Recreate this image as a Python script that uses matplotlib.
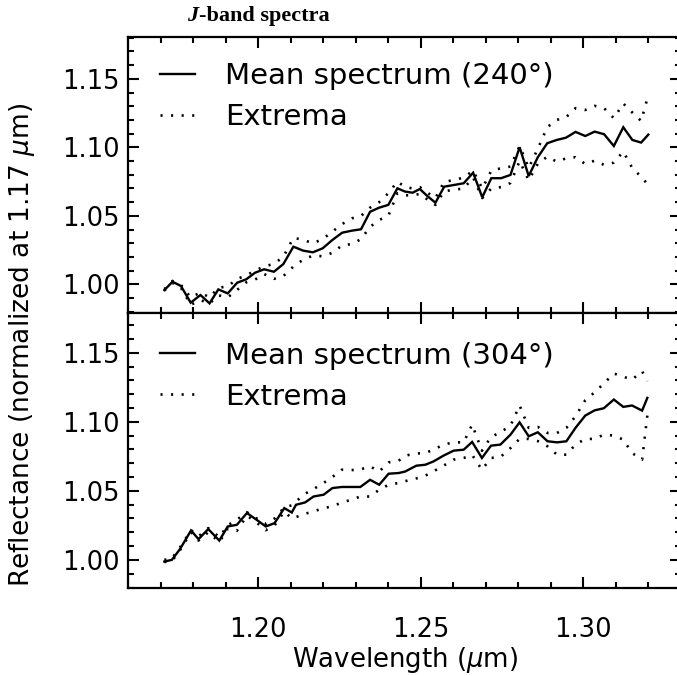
import matplotlib
matplotlib.use("Agg")
import matplotlib.pyplot as plt
from matplotlib.ticker import MultipleLocator, FormatStrFormatter

# ---------------- data ----------------
wl_top = [1.1711, 1.1736, 1.1762, 1.1792, 1.1822, 1.1850, 1.1877, 1.1906, 1.1935, 1.1963,
          1.1990, 1.2018, 1.2048, 1.2077, 1.2108, 1.2138, 1.2168, 1.2198, 1.2228, 1.2258,
          1.2288, 1.2316, 1.2344, 1.2372, 1.2400, 1.2428, 1.2452, 1.2475, 1.2497, 1.2520,
          1.2545, 1.2572, 1.2601, 1.2632, 1.2661, 1.2689, 1.2717, 1.2747, 1.2776, 1.2804,
          1.2832, 1.2860, 1.2889, 1.2918, 1.2947, 1.2976, 1.3006, 1.3035, 1.3064, 1.3094,
          1.3123, 1.3151, 1.3178, 1.3200]
mean_top = [0.9958, 1.0019, 0.9988, 0.9866, 0.9922, 0.9861, 0.9963, 0.9934, 1.0012, 1.0037,
            1.0085, 1.0110, 1.0092, 1.0148, 1.0275, 1.0246, 1.0234, 1.0263, 1.0324, 1.0377,
            1.0392, 1.0402, 1.0530, 1.0560, 1.0580, 1.0701, 1.0677, 1.0669, 1.0696, 1.0645,
            1.0596, 1.0713, 1.0725, 1.0738, 1.0815, 1.0636, 1.0775, 1.0775, 1.0799, 1.1001,
            1.0791, 1.0928, 1.1030, 1.1054, 1.1071, 1.1113, 1.1083, 1.1115, 1.1096, 1.1010,
            1.1147, 1.1054, 1.1035, 1.1093]
upper_top = [0.9965, 1.0025, 0.9995, 0.9905, 0.9940, 0.9905, 0.9975, 0.9985, 1.0040, 1.0065,
             1.0100, 1.0130, 1.0150, 1.0200, 1.0340, 1.0325, 1.0300, 1.0330, 1.0385, 1.0440,
             1.0482, 1.0499, 1.0560, 1.0600, 1.0665, 1.0750, 1.0710, 1.0700, 1.0710, 1.0670,
             1.0630, 1.0750, 1.0760, 1.0780, 1.0830, 1.0700, 1.0830, 1.0848, 1.0860, 1.1010,
             1.0850, 1.0990, 1.1147, 1.1200, 1.1220, 1.1286, 1.1273, 1.1303, 1.1286, 1.1213,
             1.1320, 1.1254, 1.1193, 1.1383]
lower_top = [0.9955, 1.0010, 0.9975, 0.9850, 0.9885, 0.9860, 0.9920, 0.9905, 0.9960, 1.0015,
             1.0035, 1.0075, 1.0040, 1.0060, 1.0130, 1.0180, 1.0210, 1.0205, 1.0230, 1.0285,
             1.0294, 1.0330, 1.0420, 1.0470, 1.0500, 1.0665, 1.0650, 1.0650, 1.0660, 1.0620,
             1.0580, 1.0680, 1.0690, 1.0700, 1.0780, 1.0630, 1.0700, 1.0710, 1.0740, 1.0900,
             1.0760, 1.0880, 1.0932, 1.0896, 1.0920, 1.0928, 1.0879, 1.0903, 1.0872, 1.0889,
             1.0969, 1.0848, 1.0786, 1.0725]

wl_bot = [1.1711, 1.1734, 1.1759, 1.1793, 1.1816, 1.1846, 1.1880, 1.1906, 1.1934, 1.1965,
          1.1995, 1.2023, 1.2050, 1.2080, 1.2103, 1.2116, 1.2144, 1.2170, 1.2201, 1.2228,
          1.2257, 1.2286, 1.2314, 1.2344, 1.2372, 1.2401, 1.2432, 1.2452, 1.2486, 1.2514,
          1.2539, 1.2570, 1.2601, 1.2632, 1.2658, 1.2688, 1.2716, 1.2745, 1.2776, 1.2804,
          1.2832, 1.2860, 1.2890, 1.2919, 1.2948, 1.2976, 1.3006, 1.3035, 1.3063, 1.3094,
          1.3123, 1.3150, 1.3181, 1.3197]
mean_bot = [0.9988, 1.0000, 1.0078, 1.0213, 1.0150, 1.0223, 1.0140, 1.0242, 1.0254, 1.0339,
            1.0290, 1.0242, 1.0266, 1.0375, 1.0343, 1.0399, 1.0416, 1.0459, 1.0472, 1.0520,
            1.0528, 1.0528, 1.0528, 1.0580, 1.0544, 1.0624, 1.0629, 1.0640, 1.0682, 1.0689,
            1.0713, 1.0755, 1.0791, 1.0798, 1.0854, 1.0738, 1.0827, 1.0835, 1.0907, 1.0996,
            1.0895, 1.0924, 1.0859, 1.0851, 1.0859, 1.0956, 1.1045, 1.1083, 1.1098, 1.1161,
            1.1108, 1.1118, 1.1081, 1.1173]
upper_bot = [1.0000, 1.0010, 1.0090, 1.0215, 1.0170, 1.0230, 1.0165, 1.0250, 1.0290, 1.0345,
             1.0300, 1.0260, 1.0300, 1.0380, 1.0395, 1.0423, 1.0479, 1.0513, 1.0557, 1.0600,
             1.0653, 1.0650, 1.0655, 1.0677, 1.0640, 1.0706, 1.0718, 1.0755, 1.0770, 1.0774,
             1.0798, 1.0835, 1.0851, 1.0851, 1.0980, 1.0790, 1.0890, 1.0924, 1.0972, 1.1118,
             1.0956, 1.0963, 1.0919, 1.0919, 1.0956, 1.1040, 1.1156, 1.1214, 1.1277, 1.1350,
             1.1326, 1.1306, 1.1366, 1.1294]
lower_bot = [0.9985, 0.9990, 1.0070, 1.0200, 1.0140, 1.0200, 1.0130, 1.0225, 1.0210, 1.0320,
             1.0270, 1.0215, 1.0250, 1.0350, 1.0300, 1.0310, 1.0334, 1.0351, 1.0375, 1.0387,
             1.0416, 1.0435, 1.0459, 1.0459, 1.0508, 1.0544, 1.0557, 1.0570, 1.0590, 1.0610,
             1.0641, 1.0682, 1.0726, 1.0738, 1.0760, 1.0653, 1.0738, 1.0745, 1.0810, 1.0876,
             1.0876, 1.0860, 1.0822, 1.0762, 1.0762, 1.0835, 1.0876, 1.0876, 1.0907, 1.0900,
             1.0871, 1.0774, 1.0726, 1.1045]

labels_mean = ["Mean spectrum (240\u00b0)", "Mean spectrum (304\u00b0)"]
label_ext = "Extrema"
xticks = [1.20, 1.25, 1.30]
yticks = [1.00, 1.05, 1.10, 1.15]

# ---------------- figure ----------------
W, H = 677, 676
fig = plt.figure(figsize=(W / 100, H / 100), dpi=100)
plt.rcParams['font.family'] = ['DejaVu Sans']
plt.rcParams['mathtext.fontset'] = 'dejavusans'

def fx(px):
    return px / W

def fy(py):
    return 1 - py / H

left_px, right_px = 128.3, 680.8
ax_top = fig.add_axes([fx(left_px), fy(312.7), fx(right_px - left_px), (312.7 - 36.7) / H])
ax_bot = fig.add_axes([fx(left_px), fy(587.5), fx(right_px - left_px), (587.5 - 312.7) / H])

panels = [
    (ax_top, wl_top, mean_top, upper_top, lower_top, labels_mean[0], 0.907),
    (ax_bot, wl_bot, mean_bot, upper_bot, lower_bot, labels_mean[1], 0.895),
]

for ax, wl, mn, up, lo, lab, ytop in panels:
    ax.plot(wl, mn, color='black', lw=1.7, solid_joinstyle='miter', label=lab)
    ax.plot(wl, up, color='black', lw=1.9, linestyle=(0, (0.8, 3.2)),
            dash_capstyle='butt', label=label_ext)
    ax.plot(wl, lo, color='black', lw=1.9, linestyle=(0, (0.8, 3.2)),
            dash_capstyle='butt')
    ax.set_xlim(1.16, 1.33)
    ax.set_ylim(0.9793, 1.1808)
    ax.set_xticks(xticks)
    ax.set_yticks(yticks)
    ax.xaxis.set_minor_locator(MultipleLocator(0.01))
    ax.yaxis.set_minor_locator(MultipleLocator(0.01))
    ax.yaxis.set_major_formatter(FormatStrFormatter('%.2f'))
    ax.xaxis.set_major_formatter(FormatStrFormatter('%.2f'))
    ax.tick_params(which='both', direction='in', top=True, right=True, width=1.5,
                   labelsize=18.5, pad=6)
    ax.tick_params(which='major', length=8)
    ax.tick_params(which='minor', length=4)
    for s in ax.spines.values():
        s.set_linewidth(1.6)
    ax.legend(loc='upper left', bbox_to_anchor=(0.058, ytop), frameon=False,
              fontsize=21, handlelength=1.2, handletextpad=1.03,
              labelspacing=0.45, borderaxespad=0.0, borderpad=0.0)

ax_bot.set_ylim(0.9800, 1.1790)
ax_top.tick_params(labelbottom=False)
ax_bot.tick_params(axis='x', pad=21)

ax_bot.set_xlabel(r"Wavelength ($\mu$m)", fontsize=18.7, labelpad=2)

fig.text(fx(22), fy(345), r"Reflectance (normalized at 1.17 $\mu$m)", rotation=90,
         ha='center', va='center', fontsize=19)

split_x = 198.5
fig.text(fx(split_x), fy(16), "J", ha='right', va='center', fontsize=16,
         fontweight='bold', fontstyle='italic', family='Liberation Serif')
fig.text(fx(split_x), fy(16), "-band spectra", ha='left', va='center', fontsize=16,
         fontweight='bold', family='Liberation Serif')

fig.savefig("out.png", dpi=100)
